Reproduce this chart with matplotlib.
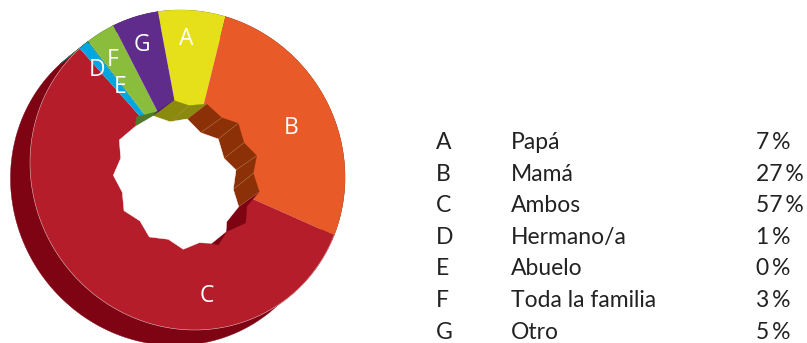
"""
Donut chart with a fake 3D extrusion, plus the text legend on the right.
"""

import matplotlib
matplotlib.use("Agg")
import matplotlib.pyplot as plt
from matplotlib.patches import Polygon
import numpy as np

# Data
letters = ["A", "B", "C", "D", "E", "F", "G"]
names = ["Papá", "Mamá", "Ambos", "Hermano/a", "Abuelo", "Toda la familia", "Otro"]
percents = [7, 27, 57, 1, 0, 3, 5]
# slice sizes as drawn, a bit finer than the rounded legend values
shares = [6.8, 27.8, 56.8, 1.0, 0.1, 2.9, 4.6]

top_colors = ["#E6E01B", "#E85A28", "#B51D2B", "#00A6E0", "#0B7F8C", "#8ABD3B", "#5F2C8C"]
side_colors = ["#8A8A0C", "#8C3008", "#7E0414", "#0B5F70", "#0B5F70", "#4F7A2A", "#45185F"]

W, H = 807, 343
CX, CY = 187.5, H - 170
# The rim is a slightly tilted ellipse (covariance style matrix, y up)
RIM = np.array([[157.5 ** 2, -1150.0], [-1150.0, 160.0 ** 2]])
RIM_INV = np.linalg.inv(RIM)
DX, DY = -19.5, -15.5  # extrusion offset
START = -10.6  # degrees clockwise from the top

# Outline of the white hole, in image pixels
hole_px = [(153.3, 116), (170, 121.7), (187.3, 119), (200.7, 132.7), (218.3, 139),
           (224, 158.3), (236, 170), (233.3, 189.3), (238.7, 206.7), (226.7, 221.7),
           (226, 231.7), (211.7, 243.3), (199.3, 242.7), (183.3, 249.3), (168.3, 239.3),
           (149.3, 237), (140, 221), (124, 210.7), (122.3, 192.3), (113.3, 175.3),
           (120.7, 158.3), (119.3, 140), (135, 126.7)]

# Inner wall: far edge and near edge, and the slice each facet belongs to
wall_far_px = [(135, 126.7), (153.3, 116), (153.3, 116), (170, 121.7), (187.3, 119),
               (200.7, 132.7), (218.3, 139), (224, 158.3), (236, 170), (233.3, 189.3),
               (238.7, 206.7), (226.7, 221.7), (226, 231.7), (211.7, 243.3), (211.7, 243.3)]
wall_near_px = [(136.7, 116.7), (156.7, 111.7), (174, 100.5), (189, 105.5), (206.7, 104),
                (221.7, 117.7), (238.3, 123.3), (244, 142.7), (256.7, 155.7), (253.3, 173.3),
                (259.3, 191.7), (247, 206), (245.7, 222.7), (228.3, 229.3), (218.3, 245)]
wall_slice = [5, 6, 0, 0, 1, 1, 1, 1, 1, 1, 2, 2, 2, 2]

# Label positions in image pixels
label_px = [(186, 39), (291, 128), (207, 296), (97, 70), (120, 87), (113, 60), (142, 45)]

plt.rcParams["font.family"] = ["Lato", "DejaVu Sans"]

fig = plt.figure(figsize=(W / 100, H / 100), dpi=100)
ax = fig.add_axes([0, 0, 1, 1])

edges = START + np.cumsum([0] + shares) * 3.6


def on_rim(deg):
    a = np.radians(deg)
    d = np.column_stack([np.sin(a), np.cos(a)])
    r = 1 / np.sqrt(np.sum(d @ RIM_INV * d, axis=1))
    return CX + r * d[:, 0], CY + r * d[:, 1]


def flip(points):
    return np.array([(x, H - y) for x, y in points])


# Outer side of the extrusion
for i in range(len(shares)):
    x, y = on_rim(np.linspace(edges[i], edges[i + 1], 120))
    ax.fill(np.r_[x, x[::-1] + DX], np.r_[y, y[::-1] + DY],
            facecolor=side_colors[i], edgecolor=side_colors[i], lw=0.3, zorder=1)

# Top face
for i in range(len(shares)):
    x, y = on_rim(np.linspace(edges[i], edges[i + 1], 120))
    ax.fill(np.r_[CX, x], np.r_[CY, y], facecolor=top_colors[i], edgecolor="none", zorder=2)

# thin pale rim on the big slice
ax.plot(*on_rim(np.linspace(edges[2], edges[3], 200)), color="#D8A5A8", lw=0.4, zorder=3)

# Inner wall
far = flip(wall_far_px)
near = flip(wall_near_px)
for j, s in enumerate(wall_slice):
    c = side_colors[s]
    ax.add_patch(Polygon([near[j], near[j + 1], far[j + 1], far[j]],
                         facecolor=c, edgecolor=c, lw=0.2, zorder=4))
for j in range(3, 11):
    ax.plot([near[j][0], far[j][0]], [near[j][1], far[j][1]], color="#B98F5E", lw=0.3, zorder=5)

# See-through part of the hole
ax.add_patch(Polygon(flip(hole_px), facecolor="white", edgecolor="white", lw=0.3, zorder=6))

# Slice letters
for letter, (x, y) in zip(letters, label_px):
    ax.text(x, H - y, letter, color="white", fontsize=16.5, ha="center", va="center",
            family=["Open Sans", "DejaVu Sans"], zorder=8)

# Legend
row_y = 142.5
for letter, name, pct in zip(letters, names, percents):
    y = H - row_y
    ax.text(436, y, letter, fontsize=16.5, color="#222222", va="center", ha="left")
    ax.text(511, y, name, fontsize=16.5, color="#222222", va="center", ha="left")
    ax.text(756, y, f"{pct}\u2009%", fontsize=16.5, color="#222222", va="center", ha="left")
    row_y += 31.6

ax.set_xlim(0, W)
ax.set_ylim(0, H)
ax.axis("off")

fig.savefig("out.png", dpi=100, facecolor="white")
